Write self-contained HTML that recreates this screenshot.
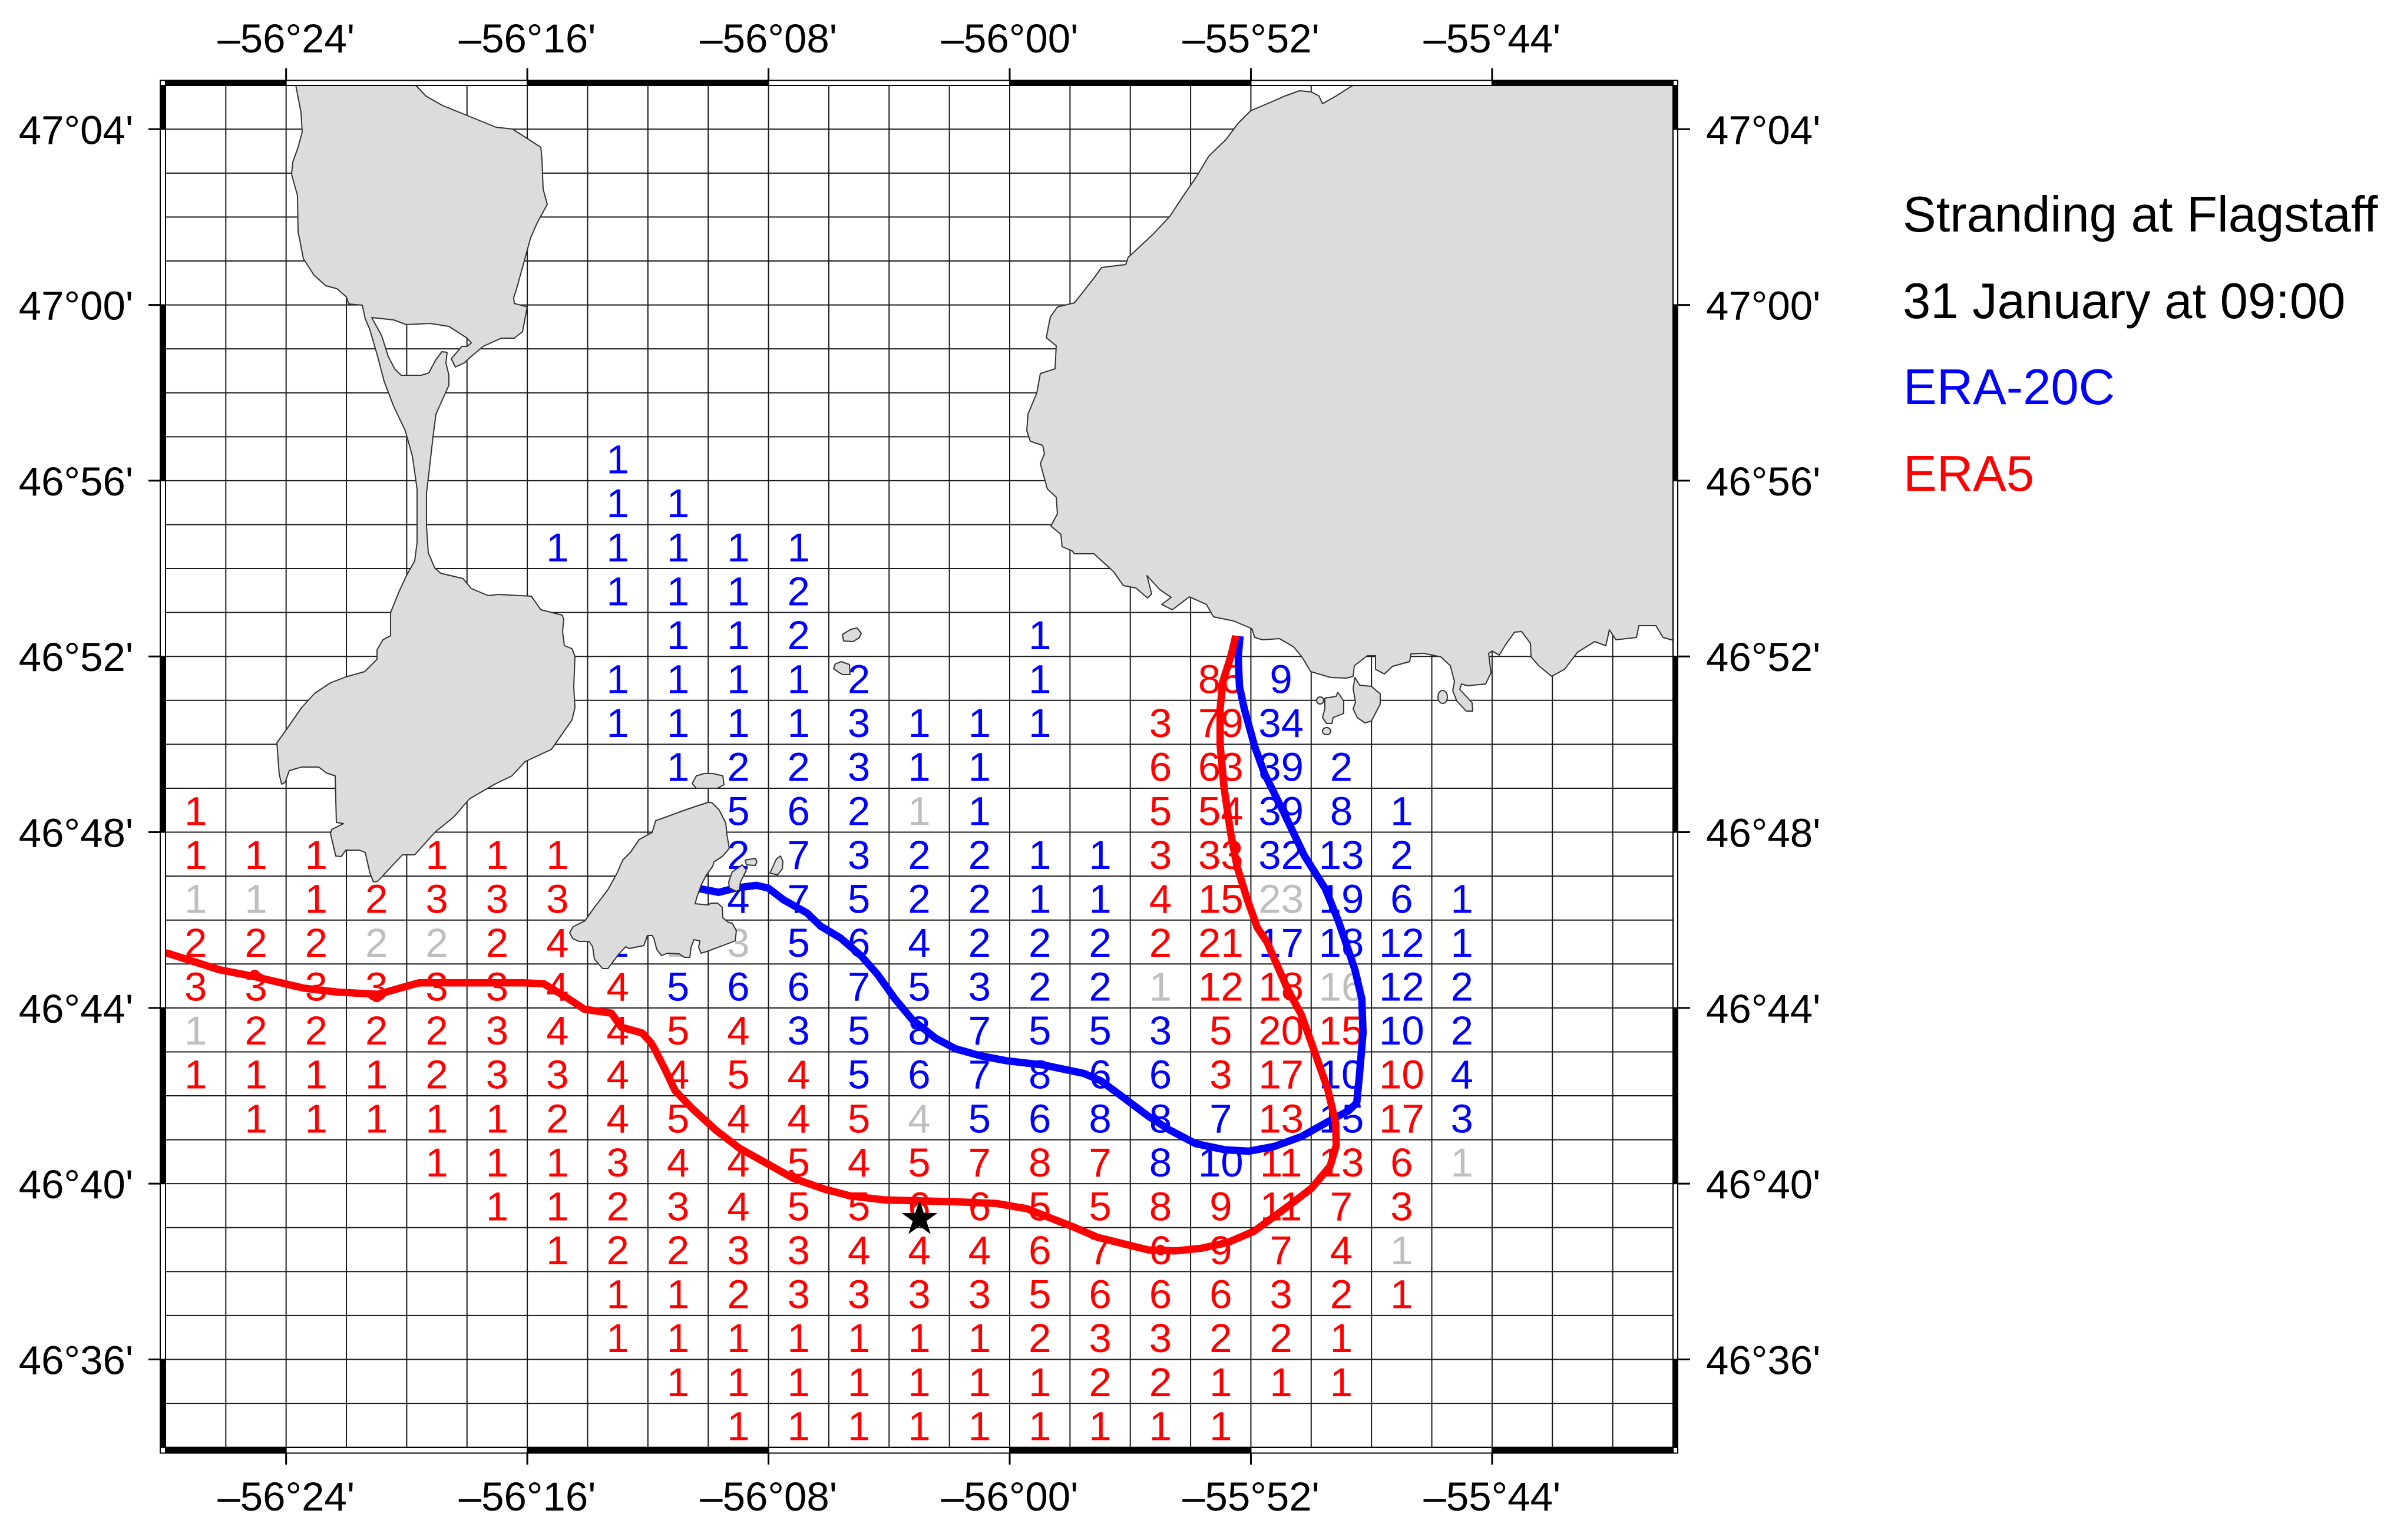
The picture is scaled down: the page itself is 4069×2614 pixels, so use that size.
<!DOCTYPE html>
<html lang="en">
<head>
<meta charset="utf-8">
<title>Stranding at Flagstaff</title>
<style>
html,body{margin:0;padding:0;background:#fff;}
svg{display:block;}
text{font-family:"Liberation Sans",sans-serif;}
</style>
</head>
<body>
<svg id="chart" xmlns="http://www.w3.org/2000/svg" width="4069" height="2614" viewBox="0 0 4069 2614">
<rect x="0" y="0" width="4069" height="2614" fill="#fff"/>
<defs><clipPath id="map-clip"><rect x="281" y="145" width="2559" height="2312"/></clipPath></defs>
<g id="grid-layer"></g>
<g id="cell-layer"></g>
<g id="track-layer" clip-path="url(#map-clip)"></g>
<g fill="#dcdcdc" stroke="#333" stroke-width="2" stroke-linejoin="round">
<polygon points="502,144 511,191 513,224 506,250 497,275 495,296 505,332 506,393 515,439 533,467 553,485 572,490 588,504 592,516 615,518 620,541 628,560 641,605 652,647 668,689 688,731 700,774 708,830 708,921 704,952 690,977 677,1005 663,1040 663,1079 650,1086 640,1103 640,1119 619,1140 587,1149 561,1159 534,1177 512,1201 485,1240 470,1261 474,1314 478,1331 484,1328 491,1308 512,1302 541,1302 554,1312 569,1317 571,1396 583,1398 563,1408 561,1415 570,1453 579,1454 587,1443 610,1443 620,1447 628,1482 634,1497 641,1496 683,1451 704,1451 739,1412 770,1387 797,1356 840,1331 869,1317 891,1293 936,1272 971,1222 976,1201 974,1166 976,1114 971,1101 958,1096 955,1072 957,1051 954,1044 918,1035 902,1012 846,1009 829,1011 800,999 786,982 748,973 738,964 727,938 724,893 724,837 729,795 735,742 740,703 762,654 762,637 757,616 759,598 750,597 739,612 728,633 715,637 681,637 670,626 659,605 648,570 631,539 668,543 690,551 730,549 762,554 793,574 800,582 793,588 784,588 766,609 773,623 788,616 800,605 820,588 851,574 873,574 887,563 895,521 873,515 872,505 877,490 891,439 901,403 912,378 929,347 922,321 920,270 918,250 898,237 870,219 842,216 793,196 751,179 723,163 705,144"/>
<polygon points="2298,144 2268,163 2245,176 2239,163 2226,156 2206,154 2181,163 2156,174 2123,188 2102,209 2081,237 2052,265 2031,300 2007,335 1986,367 1957,398 1915,437 1911,449 1870,454 1857,472 1824,514 1795,521 1783,538 1776,573 1793,587 1791,626 1766,634 1760,667 1745,703 1743,731 1749,749 1770,756 1773,770 1766,787 1778,830 1793,844 1795,872 1784,893 1801,907 1803,928 1820,935 1824,940 1857,940 1890,970 1907,994 1928,998 1948,1015 1955,1008 1947,977 1969,1001 1988,1014 1972,1026 1990,1035 2019,1013 2048,1026 2060,1047 2094,1054 2125,1067 2130,1082 2143,1086 2172,1084 2196,1098 2210,1115 2225,1140 2259,1150 2286,1151 2297,1148 2299,1130 2321,1113 2335,1113 2335,1136 2350,1144 2364,1131 2393,1123 2395,1110 2417,1109 2446,1115 2462,1130 2469,1157 2466,1172 2473,1190 2489,1207 2500,1207 2499,1193 2489,1182 2478,1170 2481,1161 2491,1164 2522,1161 2531,1142 2527,1109 2533,1105 2545,1112 2556,1094 2571,1073 2583,1072 2598,1092 2599,1115 2612,1130 2634,1148 2656,1136 2678,1107 2707,1089 2726,1096 2732,1069 2743,1086 2778,1082 2782,1062 2811,1062 2823,1082 2841,1087 2841,144"/>
<polygon points="2300,1150 2308,1163 2328,1165 2343,1178 2343,1195 2328,1224 2317,1227 2304,1218 2297,1203 2301,1192 2297,1169"/>
<polygon points="2249,1185 2268,1182 2271,1175 2281,1190 2281,1211 2263,1218 2261,1228 2252,1228 2245,1218 2249,1203"/>
<ellipse cx="2241" cy="1189" rx="6" ry="6"/>
<ellipse cx="2252" cy="1241" rx="7" ry="6"/>
<ellipse cx="2449" cy="1183" rx="8" ry="11"/>
<polygon points="1202,1362 1208,1362 1221,1375 1232,1397 1234,1417 1238,1440 1227,1453 1212,1463 1210,1470 1198,1487 1190,1503 1183,1523 1180,1534 1202,1536 1207,1533 1218,1533 1226,1540 1227,1558 1237,1566 1243,1567 1250,1580 1248,1597 1227,1605 1200,1615 1190,1618 1186,1608 1188,1597 1178,1595 1173,1608 1171,1625 1162,1625 1153,1619 1133,1618 1123,1622 1115,1612 1110,1593 1107,1588 1099,1588 1093,1605 1068,1610 1062,1607 1050,1620 1032,1644 1023,1644 1009,1628 1006,1607 1000,1598 983,1598 972,1593 967,1583 973,1573 993,1563 1007,1543 1032,1510 1047,1483 1057,1460 1070,1447 1085,1425 1107,1413 1113,1393 1130,1387 1157,1377 1183,1368"/>
<polygon points="1182,1317 1195,1313 1210,1313 1227,1317 1229,1332 1218,1338 1182,1338 1175,1330"/>
<polygon points="1237,1497 1243,1480 1260,1468 1267,1477 1257,1497 1255,1510 1250,1513 1238,1507"/>
<polygon points="1265,1460 1282,1457 1285,1463 1282,1469 1267,1468"/>
<polygon points="1307,1482 1318,1458 1325,1453 1329,1462 1328,1475 1320,1485"/>
<polygon points="1430,1077 1438,1072 1445,1068 1455,1066 1462,1075 1458,1083 1448,1089 1432,1088"/>
<polygon points="1415,1135 1418,1127 1428,1123 1442,1128 1443,1145 1430,1145 1422,1140"/>
</g>
<g id="marker-layer"></g>
<g id="frame-layer"></g>
<g id="axis-layer"></g>
<g font-size="85">
<text x="3230" y="393" fill="#000">Stranding at Flagstaff</text>
<text x="3230" y="540" fill="#000">31 January at 09:00</text>
<text x="3231" y="686" fill="#00f">ERA-20C</text>
<text x="3231" y="833" fill="#f00">ERA5</text>
</g>
</svg>
<script>
// Axis ticks: arcminutes east of 56 deg W, arcminutes north of 46 deg N
const lonTicks = [-24, -16, -8, 0, 8, 16];
const lonTickLabels = ["–56°24'", "–56°16'", "–56°08'", "–56°00'", "–55°52'", "–55°44'"];
const latTicks = [64, 60, 56, 52, 48, 44, 40, 36];
const latTickLabels = ["47°04'", "47°00'", "46°56'", "46°52'", "46°48'", "46°44'", "46°40'", "46°36'"];

// Stranding counts per grid cell: [row from north, column from west, count]
const era20cCells = [
[8,7,1],[9,7,1],[9,8,1],[10,6,1],[10,7,1],[10,8,1],[10,9,1],[10,10,1],
[11,7,1],[11,8,1],[11,9,1],[11,10,2],[12,8,1],[12,9,1],[12,10,2],[12,14,1],
[13,7,1],[13,8,1],[13,9,1],[13,10,1],[13,11,2],[13,14,1],[13,18,9],
[14,7,1],[14,8,1],[14,9,1],[14,10,1],[14,11,3],[14,12,1],[14,13,1],[14,14,1],[14,18,34],
[15,8,1],[15,9,2],[15,10,2],[15,11,3],[15,12,1],[15,13,1],[15,18,39],[15,19,2],
[16,9,5],[16,10,6],[16,11,2],[16,13,1],[16,18,39],[16,19,8],[16,20,1],
[17,9,2],[17,10,7],[17,11,3],[17,12,2],[17,13,2],[17,14,1],[17,15,1],[17,18,32],[17,19,13],[17,20,2],
[18,9,4],[18,10,7],[18,11,5],[18,12,2],[18,13,2],[18,14,1],[18,15,1],[18,19,19],[18,20,6],[18,21,1],
[19,7,2],[19,10,5],[19,11,6],[19,12,4],[19,13,2],[19,14,2],[19,15,2],[19,18,17],[19,19,18],[19,20,12],[19,21,1],
[20,8,5],[20,9,6],[20,10,6],[20,11,7],[20,12,5],[20,13,3],[20,14,2],[20,15,2],[20,20,12],[20,21,2],
[21,10,3],[21,11,5],[21,12,8],[21,13,7],[21,14,5],[21,15,5],[21,16,3],[21,20,10],[21,21,2],
[22,11,5],[22,12,6],[22,13,7],[22,14,8],[22,15,6],[22,16,6],[22,19,10],[22,21,4],
[23,13,5],[23,14,6],[23,15,8],[23,16,8],[23,17,7],[23,19,15],[23,21,3],
[24,16,8],[24,17,10]
];
const era5Cells = [
[13,17,86],[14,16,3],[14,17,79],[15,16,6],[15,17,63],[16,0,1],[16,16,5],[16,17,54],
[17,0,1],[17,1,1],[17,2,1],[17,4,1],[17,5,1],[17,6,1],[17,16,3],[17,17,33],
[18,2,1],[18,3,2],[18,4,3],[18,5,3],[18,6,3],[18,16,4],[18,17,15],
[19,0,2],[19,1,2],[19,2,2],[19,5,2],[19,6,4],[19,16,2],[19,17,21],
[20,0,3],[20,1,3],[20,2,3],[20,3,3],[20,4,3],[20,5,3],[20,6,4],[20,7,4],[20,17,12],[20,18,18],
[21,1,2],[21,2,2],[21,3,2],[21,4,2],[21,5,3],[21,6,4],[21,7,4],[21,8,5],[21,9,4],[21,17,5],[21,18,20],[21,19,15],
[22,0,1],[22,1,1],[22,2,1],[22,3,1],[22,4,2],[22,5,3],[22,6,3],[22,7,4],[22,8,4],[22,9,5],[22,10,4],[22,17,3],[22,18,17],[22,20,10],
[23,1,1],[23,2,1],[23,3,1],[23,4,1],[23,5,1],[23,6,2],[23,7,4],[23,8,5],[23,9,4],[23,10,4],[23,11,5],[23,18,13],[23,20,17],
[24,4,1],[24,5,1],[24,6,1],[24,7,3],[24,8,4],[24,9,4],[24,10,5],[24,11,4],[24,12,5],[24,13,7],[24,14,8],[24,15,7],[24,18,11],[24,19,13],[24,20,6],
[25,5,1],[25,6,1],[25,7,2],[25,8,3],[25,9,4],[25,10,5],[25,11,5],[25,12,6],[25,13,6],[25,14,5],[25,15,5],[25,16,8],[25,17,9],[25,18,11],[25,19,7],[25,20,3],
[26,6,1],[26,7,2],[26,8,2],[26,9,3],[26,10,3],[26,11,4],[26,12,4],[26,13,4],[26,14,6],[26,15,7],[26,16,6],[26,17,9],[26,18,7],[26,19,4],
[27,7,1],[27,8,1],[27,9,2],[27,10,3],[27,11,3],[27,12,3],[27,13,3],[27,14,5],[27,15,6],[27,16,6],[27,17,6],[27,18,3],[27,19,2],[27,20,1],
[28,7,1],[28,8,1],[28,9,1],[28,10,1],[28,11,1],[28,12,1],[28,13,1],[28,14,2],[28,15,3],[28,16,3],[28,17,2],[28,18,2],[28,19,1],
[29,8,1],[29,9,1],[29,10,1],[29,11,1],[29,12,1],[29,13,1],[29,14,1],[29,15,2],[29,16,2],[29,17,1],[29,18,1],[29,19,1],
[30,9,1],[30,10,1],[30,11,1],[30,12,1],[30,13,1],[30,14,1],[30,15,1],[30,16,1],[30,17,1]
];
const tiedCells = [
[16,12,1],[18,0,1],[18,1,1],[18,18,23],[19,3,2],[19,4,2],[19,8,2],[19,9,3],[20,16,1],[20,19,16],[21,0,1],[23,12,4],[24,21,1],[26,20,1]
];

// Drift tracks: arcminutes east of 56 deg W / north of 46 deg N
const era20cLon = [-10.63,-10.26,-9.65,-9.09,-8.40,-8.01,-7.50,-6.72,-6.27,-5.61,-4.92,-4.38,-3.81,-3.24,-2.46,-1.80,-0.96,-0.12,1.13,2.46,3.03,3.93,4.61,5.31,6.17,7.15,7.93,8.79,9.67,10.63,11.24,11.51,11.59,11.72,11.68,11.45,11.20,10.90,10.47,9.77,9.09,8.46,8.13,7.78,7.62,7.58,7.64];
const era20cLat = [46.71,46.71,46.63,46.73,46.79,46.73,46.46,46.16,45.86,45.59,45.18,44.76,44.21,43.74,43.31,43.07,42.91,42.80,42.70,42.51,42.34,41.88,41.53,41.22,40.91,40.77,40.74,40.85,41.07,41.44,41.66,41.84,42.40,43.43,44.20,44.87,45.38,45.98,46.71,47.47,48.45,49.32,49.94,50.81,51.32,51.99,52.46];
const era5Lon = [-28.00,-26.22,-25.09,-23.41,-22.30,-20.95,-19.60,-18.04,-16.12,-15.46,-14.77,-14.11,-13.21,-12.88,-12.19,-11.90,-11.78,-11.43,-11.10,-10.53,-9.75,-8.97,-8.19,-7.17,-6.17,-5.28,-4.14,-3.03,-1.90,-0.45,0.57,1.35,2.13,2.91,4.61,5.49,6.35,7.23,8.11,9.32,10.02,10.63,10.83,10.81,10.55,10.02,9.67,9.24,8.54,8.21,7.86,7.54,7.33,7.11,6.98,6.98,7.07,7.33,7.50];
const era5Lat = [45.26,44.87,44.72,44.45,44.36,44.31,44.57,44.57,44.57,44.55,44.27,43.97,43.88,43.56,43.43,43.21,43.07,42.60,42.12,41.71,41.22,40.81,40.51,40.12,39.88,39.72,39.63,39.61,39.59,39.55,39.43,39.22,39.01,38.78,38.49,38.47,38.53,38.66,38.92,39.53,39.90,40.40,40.87,41.38,42.15,43.18,43.85,44.39,45.49,45.83,46.51,47.22,47.98,49.01,49.99,50.81,51.43,51.99,52.47];

// Small knots visible on the ERA5 track
const era5KnotLon = [-25.04, -21.00, 5.00, 9.24, 7.46];
const era5KnotLat = [44.75, 44.25, 38.49, 44.33, 47.68];

// Stranding location
const strandingLon = [-2.99];
const strandingLat = [39.20];

const NS = "http://www.w3.org/2000/svg";
const lonWest = -28, lonEast = 22, latSouth = 34, latNorth = 65;
function xScale(lon){ return 1714 + lon * 51.18; }
function yScale(lat){ return 2307.5 - (lat - 36) * 74.58; }
function colX(col){ return xScale(lonWest + 2 * (col + 0.5)); }
function rowY(row){ return yScale(latNorth - (row + 0.5)); }
function make(tag){ return document.createElementNS(NS, tag); }
function setLine(el, x1, y1, x2, y2){
  el.setAttribute("x1", x1); el.setAttribute("y1", y1);
  el.setAttribute("x2", x2); el.setAttribute("y2", y2);
}

// Graticule
const gridLayer = document.getElementById("grid-layer");
for (let lon = lonWest; lon <= lonEast; lon += 2) {
  const ln = make("line");
  
  
  setLine(ln, xScale(lon), yScale(latNorth), xScale(lon), yScale(latSouth));
  ln.setAttribute("stroke", "#1a1a1a");
  ln.setAttribute("stroke-width", "2");
  gridLayer.appendChild(ln);
}
for (let lat = latSouth; lat <= latNorth; lat += 1) {
  const ln = make("line");
  
  
  setLine(ln, xScale(lonWest), yScale(lat), xScale(lonEast), yScale(lat));
  ln.setAttribute("stroke", "#1a1a1a");
  ln.setAttribute("stroke-width", "2");
  gridLayer.appendChild(ln);
}

// Cell count labels
const cellLayer = document.getElementById("cell-layer");
function drawCells(cells, color, name){
  cells.forEach(function(c){
    const t = make("text");
    
    
    t.setAttribute("x", colX(c[1]));
    t.setAttribute("y", rowY(c[0]) + 25);
    t.setAttribute("text-anchor", "middle");
    t.setAttribute("font-size", "69");
    t.setAttribute("fill", color);
    t.textContent = String(c[2]);
    cellLayer.appendChild(t);
  });
}
drawCells(era20cCells, "#0000ff", "cell-count-era-20c");
drawCells(era5Cells, "#ff0000", "cell-count-era5");
drawCells(tiedCells, "#bebebe", "cell-count-tied");

// Tracks
const trackLayer = document.getElementById("track-layer");
function trackPoints(lons, lats){
  return lons.map(function(lon, i){ return xScale(lon).toFixed(1) + "," + yScale(lats[i]).toFixed(1); }).join(" ");
}
const blueTrack = make("polyline");


blueTrack.setAttribute("points", trackPoints(era20cLon, era20cLat));
blueTrack.setAttribute("fill", "none");
blueTrack.setAttribute("stroke", "#0000ff");
blueTrack.setAttribute("stroke-width", "12.5");
blueTrack.setAttribute("stroke-linejoin", "round");
trackLayer.appendChild(blueTrack);
const redTrack = make("polyline");


redTrack.setAttribute("points", trackPoints(era5Lon, era5Lat));
redTrack.setAttribute("fill", "none");
redTrack.setAttribute("stroke", "#ff0000");
redTrack.setAttribute("stroke-width", "12.5");
redTrack.setAttribute("stroke-linejoin", "round");
trackLayer.appendChild(redTrack);
era5KnotLon.forEach(function(lon, i){
  const knot = make("circle");
  
  
  knot.setAttribute("cx", xScale(lon));
  knot.setAttribute("cy", yScale(era5KnotLat[i]));
  knot.setAttribute("r", "9");
  knot.setAttribute("fill", "#ff0000");
  trackLayer.appendChild(knot);
});

// Star marker
const markerLayer = document.getElementById("marker-layer");
const starCx = xScale(strandingLon[0]), starCy = yScale(strandingLat[0]);
let starPts = [];
for (let k = 0; k < 10; k++) {
  const rad = k % 2 === 0 ? 32 : 12.3;
  const ang = -Math.PI / 2 + k * Math.PI / 5;
  starPts.push((starCx + rad * Math.cos(ang)).toFixed(1) + "," + (starCy + rad * Math.sin(ang)).toFixed(1));
}
const star = make("polygon");


star.setAttribute("points", starPts.join(" "));
star.setAttribute("fill", "#000");
markerLayer.appendChild(star);

// Fancy frame
const frameLayer = document.getElementById("frame-layer");
const fL = 272, fR = 2848, fT = 136.5, fB = 2466.5;
const iL = 281, iR = 2840, iT = 145, iB = 2457;
function frameRect(x, y, w, h, fill, name){
  const r = make("rect");
  
  
  r.setAttribute("x", x); r.setAttribute("y", y);
  r.setAttribute("width", w); r.setAttribute("height", h);
  r.setAttribute("fill", fill);
  r.setAttribute("stroke", "#000");
  r.setAttribute("stroke-width", "2");
  frameLayer.appendChild(r);
}
const lonBreaks = [iL].concat(lonTicks.map(xScale), [iR]);
for (let i = 0; i < lonBreaks.length - 1; i++) {
  const fill = i % 2 === 0 ? "#000" : "#fff";
  frameRect(lonBreaks[i], fT, lonBreaks[i + 1] - lonBreaks[i], iT - fT, fill, "frame-top-segment");
  frameRect(lonBreaks[i], iB, lonBreaks[i + 1] - lonBreaks[i], fB - iB, fill, "frame-bottom-segment");
}
const latBreaks = [iT].concat(latTicks.map(yScale), [iB]);
for (let i = 0; i < latBreaks.length - 1; i++) {
  const fill = i % 2 === 0 ? "#000" : "#fff";
  frameRect(fL, latBreaks[i], iL - fL, latBreaks[i + 1] - latBreaks[i], fill, "frame-left-segment");
  frameRect(iR, latBreaks[i], fR - iR, latBreaks[i + 1] - latBreaks[i], fill, "frame-right-segment");
}
frameRect(fL, fT, iL - fL, iT - fT, "#fff", "frame-corner");
frameRect(iR, fT, fR - iR, iT - fT, "#fff", "frame-corner");
frameRect(fL, iB, iL - fL, fB - iB, "#fff", "frame-corner");
frameRect(iR, iB, fR - iR, fB - iB, "#fff", "frame-corner");

// Ticks and labels
const axisLayer = document.getElementById("axis-layer");
function tick(x1, y1, x2, y2, name){
  const ln = make("line");
  
  
  setLine(ln, x1, y1, x2, y2);
  ln.setAttribute("stroke", "#000");
  ln.setAttribute("stroke-width", "3");
  axisLayer.appendChild(ln);
}
function label(x, y, anchor, str, name){
  const t = make("text");
  
  
  t.setAttribute("x", x);
  t.setAttribute("y", y);
  t.setAttribute("text-anchor", anchor);
  t.setAttribute("font-size", "69");
  t.setAttribute("fill", "#000");
  t.textContent = str;
  axisLayer.appendChild(t);
}
lonTicks.forEach(function(lon, i){
  const x = xScale(lon);
  tick(x, 116, x, fT, "top-tick");
  tick(x, fB, x, 2486, "bottom-tick");
  label(x, 89, "middle", lonTickLabels[i], "top-longitude-label");
  label(x, 2564, "middle", lonTickLabels[i], "bottom-longitude-label");
});
latTicks.forEach(function(lat, i){
  const y = yScale(lat);
  tick(252, y, fL, y, "left-tick");
  tick(fR, y, 2869, y, "right-tick");
  label(226, y + 25, "end", latTickLabels[i], "left-latitude-label");
  label(2896, y + 25, "start", latTickLabels[i], "right-latitude-label");
});
</script>
</body>
</html>
